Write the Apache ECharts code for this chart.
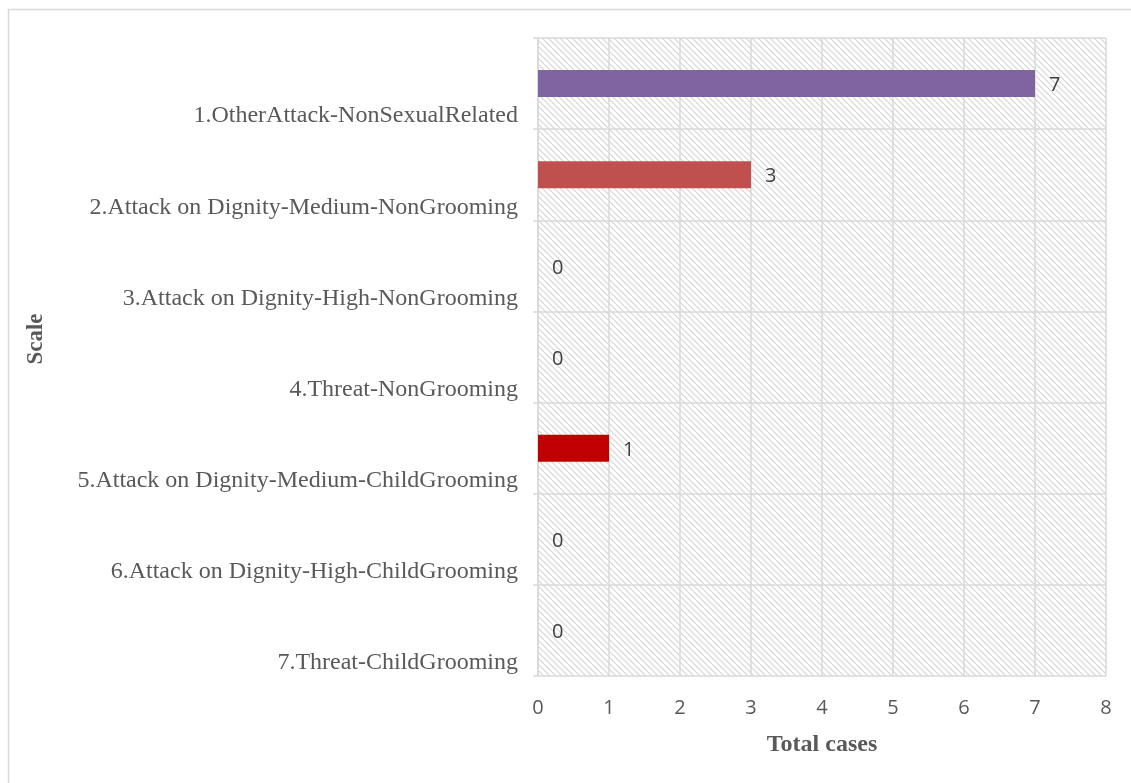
<!DOCTYPE html>
<html>
<head>
<meta charset="utf-8">
<script src="https://cdn.jsdelivr.net/npm/echarts@6/dist/echarts.min.js"></script>
<style>
  html, body { margin: 0; padding: 0; background: #fff; }
  #chart { width: 1131px; height: 783px; }
</style>
</head>
<body>
<div id="chart"></div>
<script>
// Scale categories, top to bottom
const categories = [
  '1.OtherAttack-NonSexualRelated',
  '2.Attack on Dignity-Medium-NonGrooming',
  '3.Attack on Dignity-High-NonGrooming',
  '4.Threat-NonGrooming',
  '5.Attack on Dignity-Medium-ChildGrooming',
  '6.Attack on Dignity-High-ChildGrooming',
  '7.Threat-ChildGrooming'
];
// Total cases per scale
const totalCases = [7, 3, 0, 0, 1, 0, 0];
// Bar fill per scale
const barColors = ['#8064A2', '#C0504D', '#4F81BD', '#9BBB59', '#C00000', '#4BACC6', '#F79646'];
const xTicks = [0, 1, 2, 3, 4, 5, 6, 7, 8];

// Diagonal hatch used behind the plot
function hatchPattern() {
  const c = document.createElement('canvas');
  const s = 6;
  c.width = s; c.height = s;
  const g = c.getContext('2d');
  g.fillStyle = '#ffffff';
  g.fillRect(0, 0, s, s);
  g.strokeStyle = '#d4d4d4';
  g.lineWidth = 1.1;
  g.beginPath();
  g.moveTo(-1, -1); g.lineTo(s + 1, s + 1);
  g.moveTo(-1, s - 1); g.lineTo(1, s + 1);
  g.moveTo(s - 1, -1); g.lineTo(s + 1, 1);
  g.stroke();
  return { image: c, repeat: 'repeat' };
}

const chart = echarts.init(document.getElementById('chart'), null, { renderer: 'canvas' });
chart.setOption({
  animation: false,
  backgroundColor: '#ffffff',
  grid: {
    left: 538, right: 25, top: 38, bottom: 107,
    show: true,
    backgroundColor: hatchPattern(),
    borderWidth: 0
  },
  graphic: [
    {
      type: 'rect',
      shape: { x: 8.5, y: 9.5, width: 1200, height: 900 },
      style: { fill: 'none', stroke: '#d9d9d9', lineWidth: 1.5 },
      silent: true
    },
    {
      type: 'text',
      x: 36, y: 339,
      rotation: Math.PI / 2,
      style: {
        text: 'Scale',
        font: 'bold 23px "Liberation Serif", "Times New Roman", serif',
        fill: '#595959',
        align: 'center',
        verticalAlign: 'middle'
      }
    }
  ],
  xAxis: {
    type: 'value',
    min: 0, max: 8, interval: 1,
    name: 'Total cases',
    nameLocation: 'middle',
    nameGap: 57,
    nameTextStyle: {
      fontFamily: '"Liberation Serif", "Times New Roman", serif',
      fontWeight: 'bold',
      fontSize: 24,
      color: '#595959'
    },
    axisLine: { show: false },
    axisTick: { show: false },
    axisLabel: {
      margin: 22,
      fontFamily: '"Open Sans", sans-serif',
      fontSize: 20,
      color: '#595959',
      formatter: v => (xTicks.includes(v) ? String(v) : '')
    },
    splitLine: { show: true, lineStyle: { color: '#d9d9d9', width: 1.5 } }
  },
  yAxis: {
    type: 'category',
    inverse: true,
    data: categories,
    axisLine: { show: true, lineStyle: { color: '#d9d9d9', width: 1.5 } },
    axisTick: { show: true, length: 5, lineStyle: { color: '#d9d9d9', width: 1.5 } },
    axisLabel: {
      interval: 0,
      hideOverlap: false,
      margin: 20,
      // an empty first line drops each name toward the bottom of its band
      formatter: v => '\n' + v,
      lineHeight: 65,
      fontFamily: '"Liberation Serif", "Times New Roman", serif',
      fontSize: 24,
      color: '#595959'
    },
    splitLine: { show: true, lineStyle: { color: '#d9d9d9', width: 1.5 } }
  },
  series: [{
    type: 'bar',
    data: totalCases.map((v, i) => ({ value: v, itemStyle: { color: barColors[i] } })),
    barWidth: 27,
    label: {
      show: true,
      position: 'right',
      distance: 14,
      offset: [0, 2],
      fontFamily: '"Open Sans", sans-serif',
      fontSize: 20,
      color: '#404040'
    }
  }]
});
</script>
</body>
</html>
